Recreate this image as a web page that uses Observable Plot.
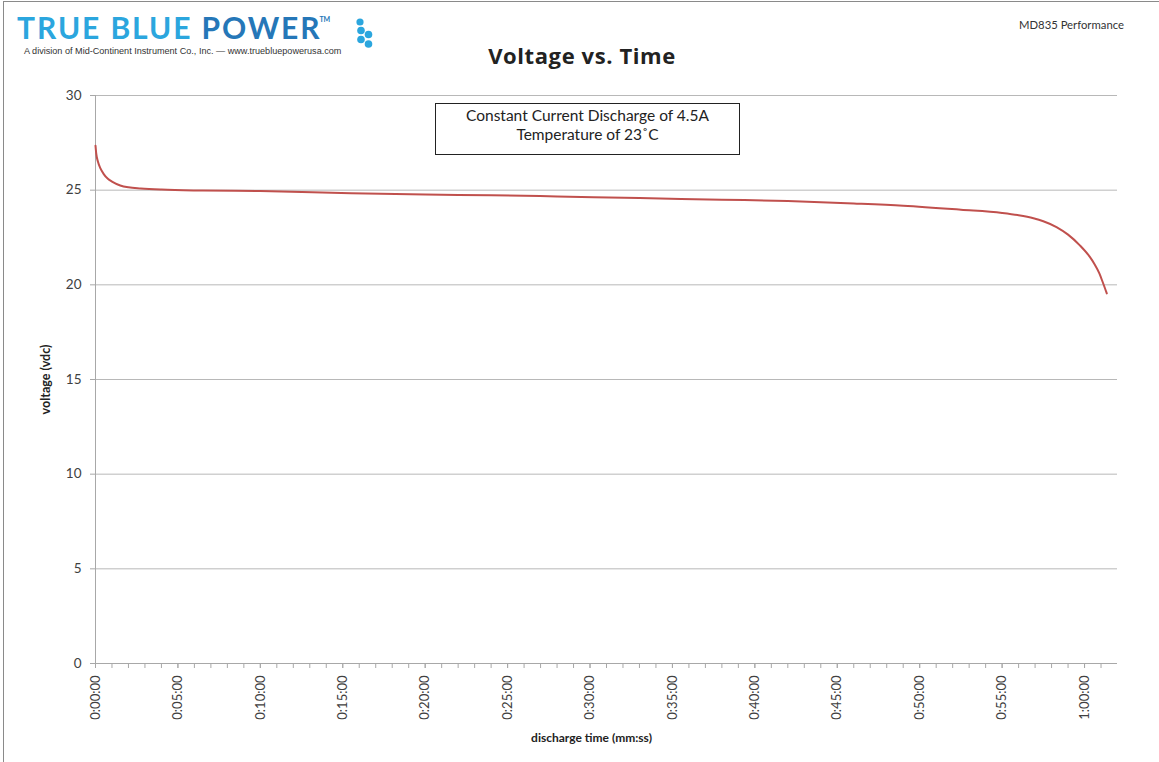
<!DOCTYPE html>
<html>
<head>
<meta charset="utf-8">
<script src="https://cdn.jsdelivr.net/npm/d3@7"></script>
<script src="https://cdn.jsdelivr.net/npm/@observablehq/plot@0.6"></script>
<style>
  html, body { margin: 0; padding: 0; background: #fff; }
  #page { position: relative; width: 1159px; height: 762px; overflow: hidden; font-family: Lato, "Open Sans", sans-serif; }
  #border { position: absolute; left: 3px; top: 1px; width: 1170px; height: 770px; border: 1.5px solid #8a8a8a; box-sizing: border-box; }
  #logo { position: absolute; left: 17px; top: 9px; font-family: Lato, sans-serif; font-weight: 700; font-size: 30px; letter-spacing: 1.9px; white-space: nowrap; }
  #logo .a { color: #2ba6de; }
  #logo .b { color: #2577b8; }
  #logo sup { font-size: 7px; vertical-align: top; position: relative; top: 6px; left: -2px; color: #2577b8; letter-spacing: 0; }
  #sub { position: absolute; left: 24px; top: 46px; font-family: "Liberation Sans", Arial, sans-serif; font-size: 9.1px; color: #333; white-space: nowrap; }
  #dots { position: absolute; left: 352px; top: 16px; }
  #md { position: absolute; left: 1019px; top: 18px; font-size: 11.3px; color: #333; }
  #title { position: absolute; left: 0; width: 1164px; top: 40px; text-align: center; font-family: "Open Sans", sans-serif; font-weight: 700; font-size: 22px; letter-spacing: 0.6px; color: #222; }
  #note { position: absolute; left: 435px; top: 103px; width: 305px; height: 52px; border: 1.6px solid #222; box-sizing: border-box; text-align: center; font-size: 15.5px; line-height: 19px; padding-top: 2px; color: #222; background: #fff; }
  #chart { position: absolute; left: 0; top: 0; }
</style>
</head>
<body>
<div id="page">
  <div id="chart"></div>
  <div id="border"></div>
  <div id="logo"><span class="a">TRUE BLUE </span><span class="b">POWER</span><sup>TM</sup></div>
  <svg id="dots" width="26" height="36">
    <circle cx="8" cy="6" r="3.6" fill="#2ba6de"/>
    <circle cx="9" cy="14.5" r="3.8" fill="#2ba6de"/>
    <circle cx="16.5" cy="18.5" r="3.8" fill="#2ba6de"/>
    <circle cx="9" cy="23.5" r="3.8" fill="#2ba6de"/>
    <circle cx="16.5" cy="28" r="3.8" fill="#2ba6de"/>
  </svg>
  <div id="sub">A division of Mid-Continent Instrument Co., Inc. — www.truebluepowerusa.com</div>
  <div id="md">MD835 Performance</div>
  <div id="title">Voltage vs. Time</div>
  <div id="note">Constant Current Discharge of 4.5A<br>Temperature of 23˚C</div>
</div>
<script>
// discharge time in minutes
const timeMin = [0, 0.05, 0.15, 0.3, 0.5, 0.75, 1.0, 1.5, 2.0, 2.75, 4, 6.5, 10, 15.5, 20, 24, 28, 33, 38, 42, 46, 49, 52.5, 55, 56, 56.9, 57.5, 58.3, 59, 59.7, 60.3, 60.6, 60.9, 61.1, 61.35];
// voltage (vdc)
const voltage = [27.35, 26.9, 26.5, 26.15, 25.85, 25.6, 25.45, 25.25, 25.15, 25.09, 25.03, 24.98, 24.95, 24.84, 24.77, 24.73, 24.67, 24.58, 24.5, 24.43, 24.3, 24.18, 23.97, 23.8, 23.68, 23.52, 23.36, 23.05, 22.65, 22.1, 21.5, 21.1, 20.6, 20.15, 19.55];
const xMajorTicks = [0, 5, 10, 15, 20, 25, 30, 35, 40, 45, 50, 55, 60];
const xMinorTicks = d3.range(0, 62, 1);
const yTicks = [0, 5, 10, 15, 20, 25, 30];
const yLabel = "voltage (vdc)";
const xLabel = "discharge time (mm:ss)";

const data = timeMin.map((t, i) => ({t, v: voltage[i]}));
const fmt = m => `${Math.floor(m / 60)}:${String(m % 60).padStart(2, "0")}:00`;

const chart = Plot.plot({
  width: 1159,
  height: 762,
  marginTop: 95,
  marginBottom: 99,
  marginLeft: 95,
  marginRight: 42,
  style: {fontFamily: "Lato, 'Open Sans', sans-serif", fontSize: "13px", color: "#404040", background: "transparent"},
  x: {domain: [0, 62]},
  y: {domain: [0, 30]},
  marks: [
    Plot.gridY(yTicks.filter(d => d > 0), {stroke: "#b8b8b8", strokeOpacity: 1, strokeWidth: 1}),
    Plot.ruleX([0], {stroke: "#a8a8a8", strokeWidth: 1}),
    Plot.ruleY([0], {stroke: "#a8a8a8", strokeWidth: 1}),
    Plot.axisY({ticks: yTicks, tickSize: 5, tickPadding: 9, stroke: "#a8a8a8", label: null, fontSize: 13.5}),
    Plot.axisX({ticks: xMinorTicks, tickSize: 5, tickFormat: () => "", stroke: "#a8a8a8", label: null}),
    Plot.axisX({ticks: xMajorTicks, tickSize: 5, tickPadding: 7, tickRotate: -90, tickFormat: fmt, stroke: "#a8a8a8", label: null, fontSize: 13}),
    Plot.line(data, {x: "t", y: "v", stroke: "#c0504d", strokeWidth: 2, curve: "monotone-x"}),
    Plot.text([yLabel], {frameAnchor: "left", textAnchor: "middle", lineAnchor: "middle", dx: -50, rotate: -90, fontWeight: "bold", fontSize: 12.5, fill: "#222"}),
    Plot.text([xLabel], {frameAnchor: "bottom", textAnchor: "middle", lineAnchor: "middle", dy: 75, dx: -15, fontWeight: "bold", fontSize: 12, fill: "#222"})
  ]
});
document.getElementById("chart").appendChild(chart);
</script>
</body>
</html>
